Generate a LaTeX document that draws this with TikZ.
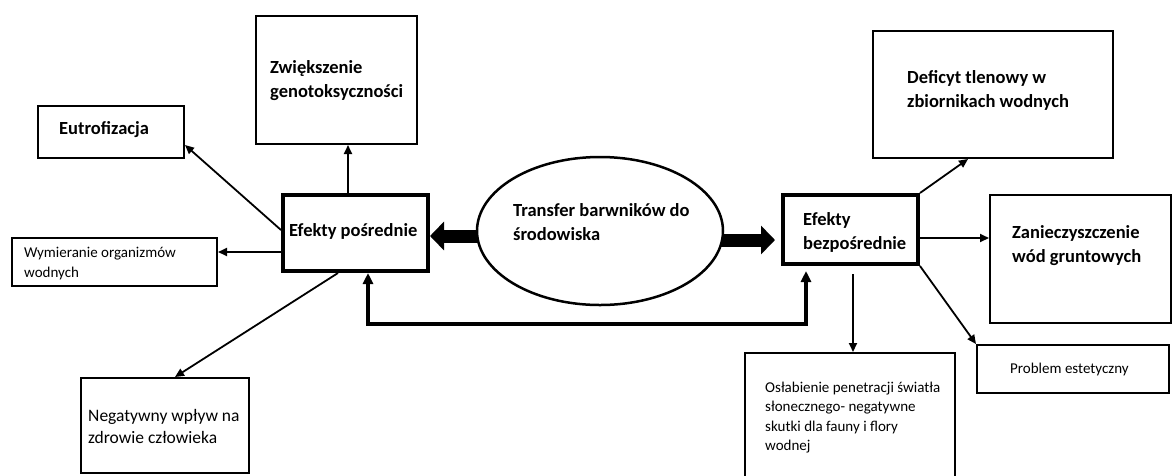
\documentclass[tikz,border=0pt]{standalone}
\usepackage{fontspec}
\setmainfont{Carlito}
\usetikzlibrary{arrows.meta,shapes.geometric}
\begin{document}
\begin{tikzpicture}[x=1pt,y=-1pt,
  box/.style={draw, line width=2pt, inner sep=0pt},
  mainbox/.style={draw, line width=4pt, inner sep=0pt},
  txt/.style={inner sep=0pt, anchor=west, align=left},
  big/.style={txt, font=\bfseries\fontsize{18.5}{24}\selectfont},
  small/.style={txt, font=\fontsize{15}{20}\selectfont},
  arr/.style={line width=1.8pt, -{Triangle[length=9pt,width=8pt]}},
  blk/.style={line width=13pt, -{Triangle[length=14pt,width=28pt]}},
  fb/.style={line width=3.5pt, {Triangle[length=11pt,width=10pt]}-{Triangle[length=11pt,width=10pt]}}
]
\useasboundingbox (0,0) rectangle (1173,475);
\clip (0,0) rectangle (1173,475);
\fill[white] (0,0) rectangle (1173,475);

% boxes
\node[box, minimum width=161pt, minimum height=128pt] (zw) at (336.5,80) {};
\node[box, minimum width=146pt, minimum height=52pt] (eu) at (111,132) {};
\node[mainbox, minimum width=145pt, minimum height=76pt] (ep) at (355.5,233) {};
\node[box, minimum width=205pt, minimum height=48pt] (wy) at (114.5,262) {};
\node[box, minimum width=168pt, minimum height=95pt] (ng) at (165,425.5) {};
\node[mainbox, minimum width=135pt, minimum height=69pt] (eb) at (850.5,229.5) {};
\node[box, minimum width=240pt, minimum height=127pt] (de) at (993,94.5) {};
\node[box, minimum width=181pt, minimum height=128pt] (za) at (1080.5,259) {};
\node[box, minimum width=192pt, minimum height=48pt] (pr) at (1073,369) {};
\node[box, minimum width=210pt, minimum height=137pt] (os) at (850,421.5) {};

% thick arrows from the ellipse
\node[ellipse, minimum width=246pt, minimum height=148pt, inner sep=0pt] (elc) at (600,231) {};
\draw[blk] ([yshift=-5pt]elc.west) ++(6,0) -- ([yshift=-3pt]ep.east);
\draw[blk, shorten >=6pt] ([yshift=-9pt]elc.east) ++(-6,0) -- ([yshift=-10.5pt]eb.west);
\node[ellipse, draw, line width=2.5pt, fill=white, minimum width=246pt, minimum height=148pt, inner sep=0pt] (el) at (600,231) {};

% texts
\node[big] (tzw) at (270,81) {Zwiększenie\\genotoksyczności};
\node[big] (teu) at (59,130) {Eutrofizacja};
\node[big] (tep) at (289,231) {Efekty pośrednie};
\node[small] (twy) at (24,264) {Wymieranie organizmów\\wodnych};
\node[txt, font=\fontsize{17.5}{22.5}\selectfont] (tng) at (88,426.5) {Negatywny wpływ na\\zdrowie człowieka};
\node[big] (tel) at (513,222) {Transfer barwników do\\środowiska};
\node[big] (teb) at (803,232) {Efekty\\bezpośrednie};
\node[big] (tde) at (907,90.5) {Deficyt tlenowy w\\zbiornikach wodnych};
\node[big] (tza) at (1012,246) {Zanieczyszczenie\\wód gruntowych};
\node[small] (tpr) at (1010,369) {Problem estetyczny};
\node[small, font=\fontsize{15}{19.5}\selectfont] (tos) at (765,417.5) {Osłabienie penetracji światła\\słonecznego- negatywne\\skutki dla fauny i flory\\wodnej};

% left connectors
\draw[arr] ([yshift=3pt]ep.west) -- ([yshift=-13pt]eu.east);
\draw[arr] ([xshift=-7.5pt]ep.north) -- ([xshift=-7.5pt]ep.north |- zw.south);
\draw[arr] ([yshift=-19pt]ep.west) -- ([yshift=-19pt]ep.west -| wy.east);
\draw[arr] ([xshift=-17.5pt]ep.south) -- ([xshift=10pt]ng.north);

% right connectors
\draw[arr] (eb.north east) -- ([xshift=-25pt]de.south);
\draw[arr] ([yshift=-8.5pt]eb.east) -- ([yshift=-8.5pt]eb.east -| za.west);
\draw[arr] (eb.south east) -- (pr.north west);
\draw[arr, shorten <=8pt] ([xshift=2.5pt]eb.south) -- ([xshift=2.5pt]eb.south |- os.north);

% feedback connector
\draw[fb, shorten >=5pt] ([xshift=12.5pt]ep.south) -- ++(0,51) -| ([xshift=-44.5pt]eb.south);
\end{tikzpicture}
\end{document}
